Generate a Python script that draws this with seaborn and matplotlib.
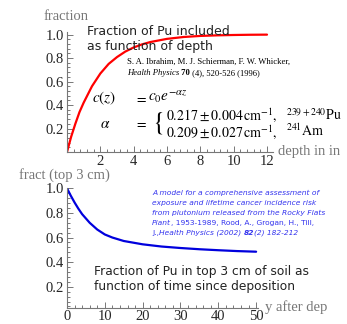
import numpy as np
import pandas as pd
import matplotlib
matplotlib.use("Agg")
import matplotlib.pyplot as plt
import seaborn as sns
from matplotlib.ticker import MultipleLocator

# --- data ---
depth_in = [0, 0.25, 0.5, 0.75, 1, 1.5, 2, 2.5, 3, 3.5, 4, 4.5, 5, 6, 7, 8, 9, 10, 11, 12]
frac_depth = [0, 0.13, 0.24, 0.34, 0.42, 0.56, 0.668, 0.75, 0.808, 0.855, 0.89, 0.916,
              0.936, 0.963, 0.979, 0.988, 0.993, 0.996, 0.998, 0.999]

years = [0, 1, 2, 3, 4, 5, 6, 8, 10, 12, 15, 20, 25, 30, 35, 40, 45, 50]
frac_top3 = [1.0, 0.94, 0.885, 0.835, 0.79, 0.755, 0.72, 0.665, 0.625, 0.6, 0.572,
             0.545, 0.527, 0.515, 0.505, 0.497, 0.49, 0.485]

top_xticks = [2, 4, 6, 8, 10, 12]
top_yticks = [0.2, 0.4, 0.6, 0.8, 1.0]
bot_xticks = [0, 10, 20, 30, 40, 50]
bot_yticks = [0.2, 0.4, 0.6, 0.8, 1.0]

sns.set_style("ticks")
plt.rcParams["font.family"] = ["DejaVu Sans"]
plt.rcParams["mathtext.fontset"] = "stix"

W, H = 347, 324
fig = plt.figure(figsize=(W / 100, H / 100), dpi=100)

def P(x, y):
    return (x / W, 1 - y / H)

serif = ["Liberation Serif", "DejaVu Serif"]
gray = "#777777"

def style_axes(ax):
    for s in ["top", "right"]:
        ax.spines[s].set_visible(False)
    for s in ["left", "bottom"]:
        ax.spines[s].set_color(gray)
        ax.spines[s].set_linewidth(0.8)
    ax.tick_params(which="both", direction="in", color=gray, width=0.7)
    ax.tick_params(which="major", length=4, labelsize=10.5, pad=2)
    ax.tick_params(which="minor", length=2)
    for lab in ax.get_xticklabels() + ax.get_yticklabels():
        lab.set_family(serif)
    ax.set_xlabel("")
    ax.set_ylabel("")

# top axes
ax1 = fig.add_axes([67 / W, 172 / H, 206 / W, 120.3 / H])
df1 = pd.DataFrame({"depth": depth_in, "frac": frac_depth})
sns.lineplot(data=df1, x="depth", y="frac", ax=ax1, color="red", linewidth=1.6)
ax1.set_xlim(0, 12.36)
ax1.set_ylim(0, 1.024)
ax1.set_xticks(top_xticks)
ax1.set_yticks(top_yticks)
ax1.set_xticklabels([str(v) for v in top_xticks])
ax1.set_yticklabels([f"{v:.1f}" for v in top_yticks])
ax1.xaxis.set_minor_locator(MultipleLocator(0.4))
ax1.yaxis.set_minor_locator(MultipleLocator(0.04))
style_axes(ax1)

# bottom axes
ax2 = fig.add_axes([67 / W, 16.3 / H, 191 / W, 120 / H])
df2 = pd.DataFrame({"years": years, "frac": frac_top3})
sns.lineplot(data=df2, x="years", y="frac", ax=ax2, color="#0000dd", linewidth=1.6)
ax2.set_xlim(0, 50.5)
ax2.set_ylim(0.03, 1.005)
ax2.set_xticks(bot_xticks)
ax2.set_yticks(bot_yticks)
ax2.set_xticklabels([str(v) for v in bot_xticks])
ax2.set_yticklabels([f"{v:.1f}" for v in bot_yticks])
ax2.xaxis.set_minor_locator(MultipleLocator(2))
ax2.yaxis.set_minor_locator(MultipleLocator(0.04))
style_axes(ax2)

# axis labels
fig.text(*P(44, 16), "fraction", family=serif, color=gray, fontsize=10.5, va="center", ha="left")
fig.text(*P(278, 152), "depth in in", family=serif, color=gray, fontsize=10.5, va="center", ha="left")
fig.text(*P(19, 175), "fract (top 3 cm)", family=serif, color=gray, fontsize=10.5, va="center", ha="left")
fig.text(*P(265, 307), "y after dep", family=serif, color=gray, fontsize=10.5, va="center", ha="left")

# titles
fig.text(*P(87, 39), "Fraction of Pu included\nas function of depth", fontsize=9.0,
         color="#222222", va="center", ha="left", linespacing=1.25)
fig.text(*P(94, 279), "Fraction of Pu in top 3 cm of soil as\nfunction of time since deposition",
         fontsize=8.8, color="#222222", va="center", ha="left", linespacing=1.2)

renderer = fig.canvas.get_renderer()

def runs(x, y, parts, **kw):
    xf, yf = P(x, y)
    for s, props in parts:
        t = fig.text(xf, yf, s, va="center", ha="left", **kw, **props)
        bb = t.get_window_extent(renderer)
        xf = bb.x1 / fig.bbox.width

# black citation
runs(127, 62, [("S. A. Ibrahim, M. J. Schierman, F. W. Whicker,", {})], family=serif, fontsize=6.2, color="black")
runs(127, 73, [("Health Physics", {"style": "italic"}), (" 70", {"weight": "bold"}),
               (" (4), 520-526 (1996)", {})], family=serif, fontsize=6.2, color="black")

# math
mk = dict(fontsize=10, color="black", va="center")
mk2 = dict(fontsize=11, color="black", va="center")
fig.text(*P(92, 98), r"$c(z)$", ha="left", **mk2)
fig.text(*P(140, 98), r"$=$", ha="center", **mk)
fig.text(*P(148, 97), r"$c_0 e^{-\alpha z}$", ha="left", **mk2)
fig.text(*P(100, 123), r"$\alpha$", ha="left", **mk2)
fig.text(*P(140, 123), r"$=$", ha="center", **mk)
fig.text(*P(152, 123), r"$\{$", ha="left", fontsize=19, color="black", va="center")
fig.text(*P(166, 115), r"$0.217 \pm 0.004\,\mathrm{cm}^{-1},$", ha="left", **mk)
fig.text(*P(166, 132), r"$0.209 \pm 0.027\,\mathrm{cm}^{-1},$", ha="left", **mk)
fig.text(*P(286, 115), r"$^{239+240}\mathrm{Pu}$", ha="left", **mk)
fig.text(*P(286, 131), r"$^{241}\mathrm{Am}$", ha="left", **mk)

# blue citation
blue = "#3333ee"
bk = dict(fontsize=5.4, color=blue)
runs(152, 193, [("A model for a comprehensive assessment of", {"style": "italic"})], **bk)
runs(152, 203, [("exposure and lifetime cancer incidence risk", {"style": "italic"})], **bk)
runs(152, 213, [("from plutonium released from the Rocky Flats", {"style": "italic"})], **bk)
runs(152, 223, [("Plant", {"style": "italic"}), (", 1953-1989, Rood, A., Grogan, H., Till,", {})], **bk)
runs(152, 233, [("J.,", {}), ("Health Physics", {"style": "italic"}), (" (2002) ", {"style": "italic"}),
                ("82", {"weight": "bold", "style": "italic"}), ("(2) 182-212", {"style": "italic"})], **bk)

fig.savefig("out.png", dpi=100)
